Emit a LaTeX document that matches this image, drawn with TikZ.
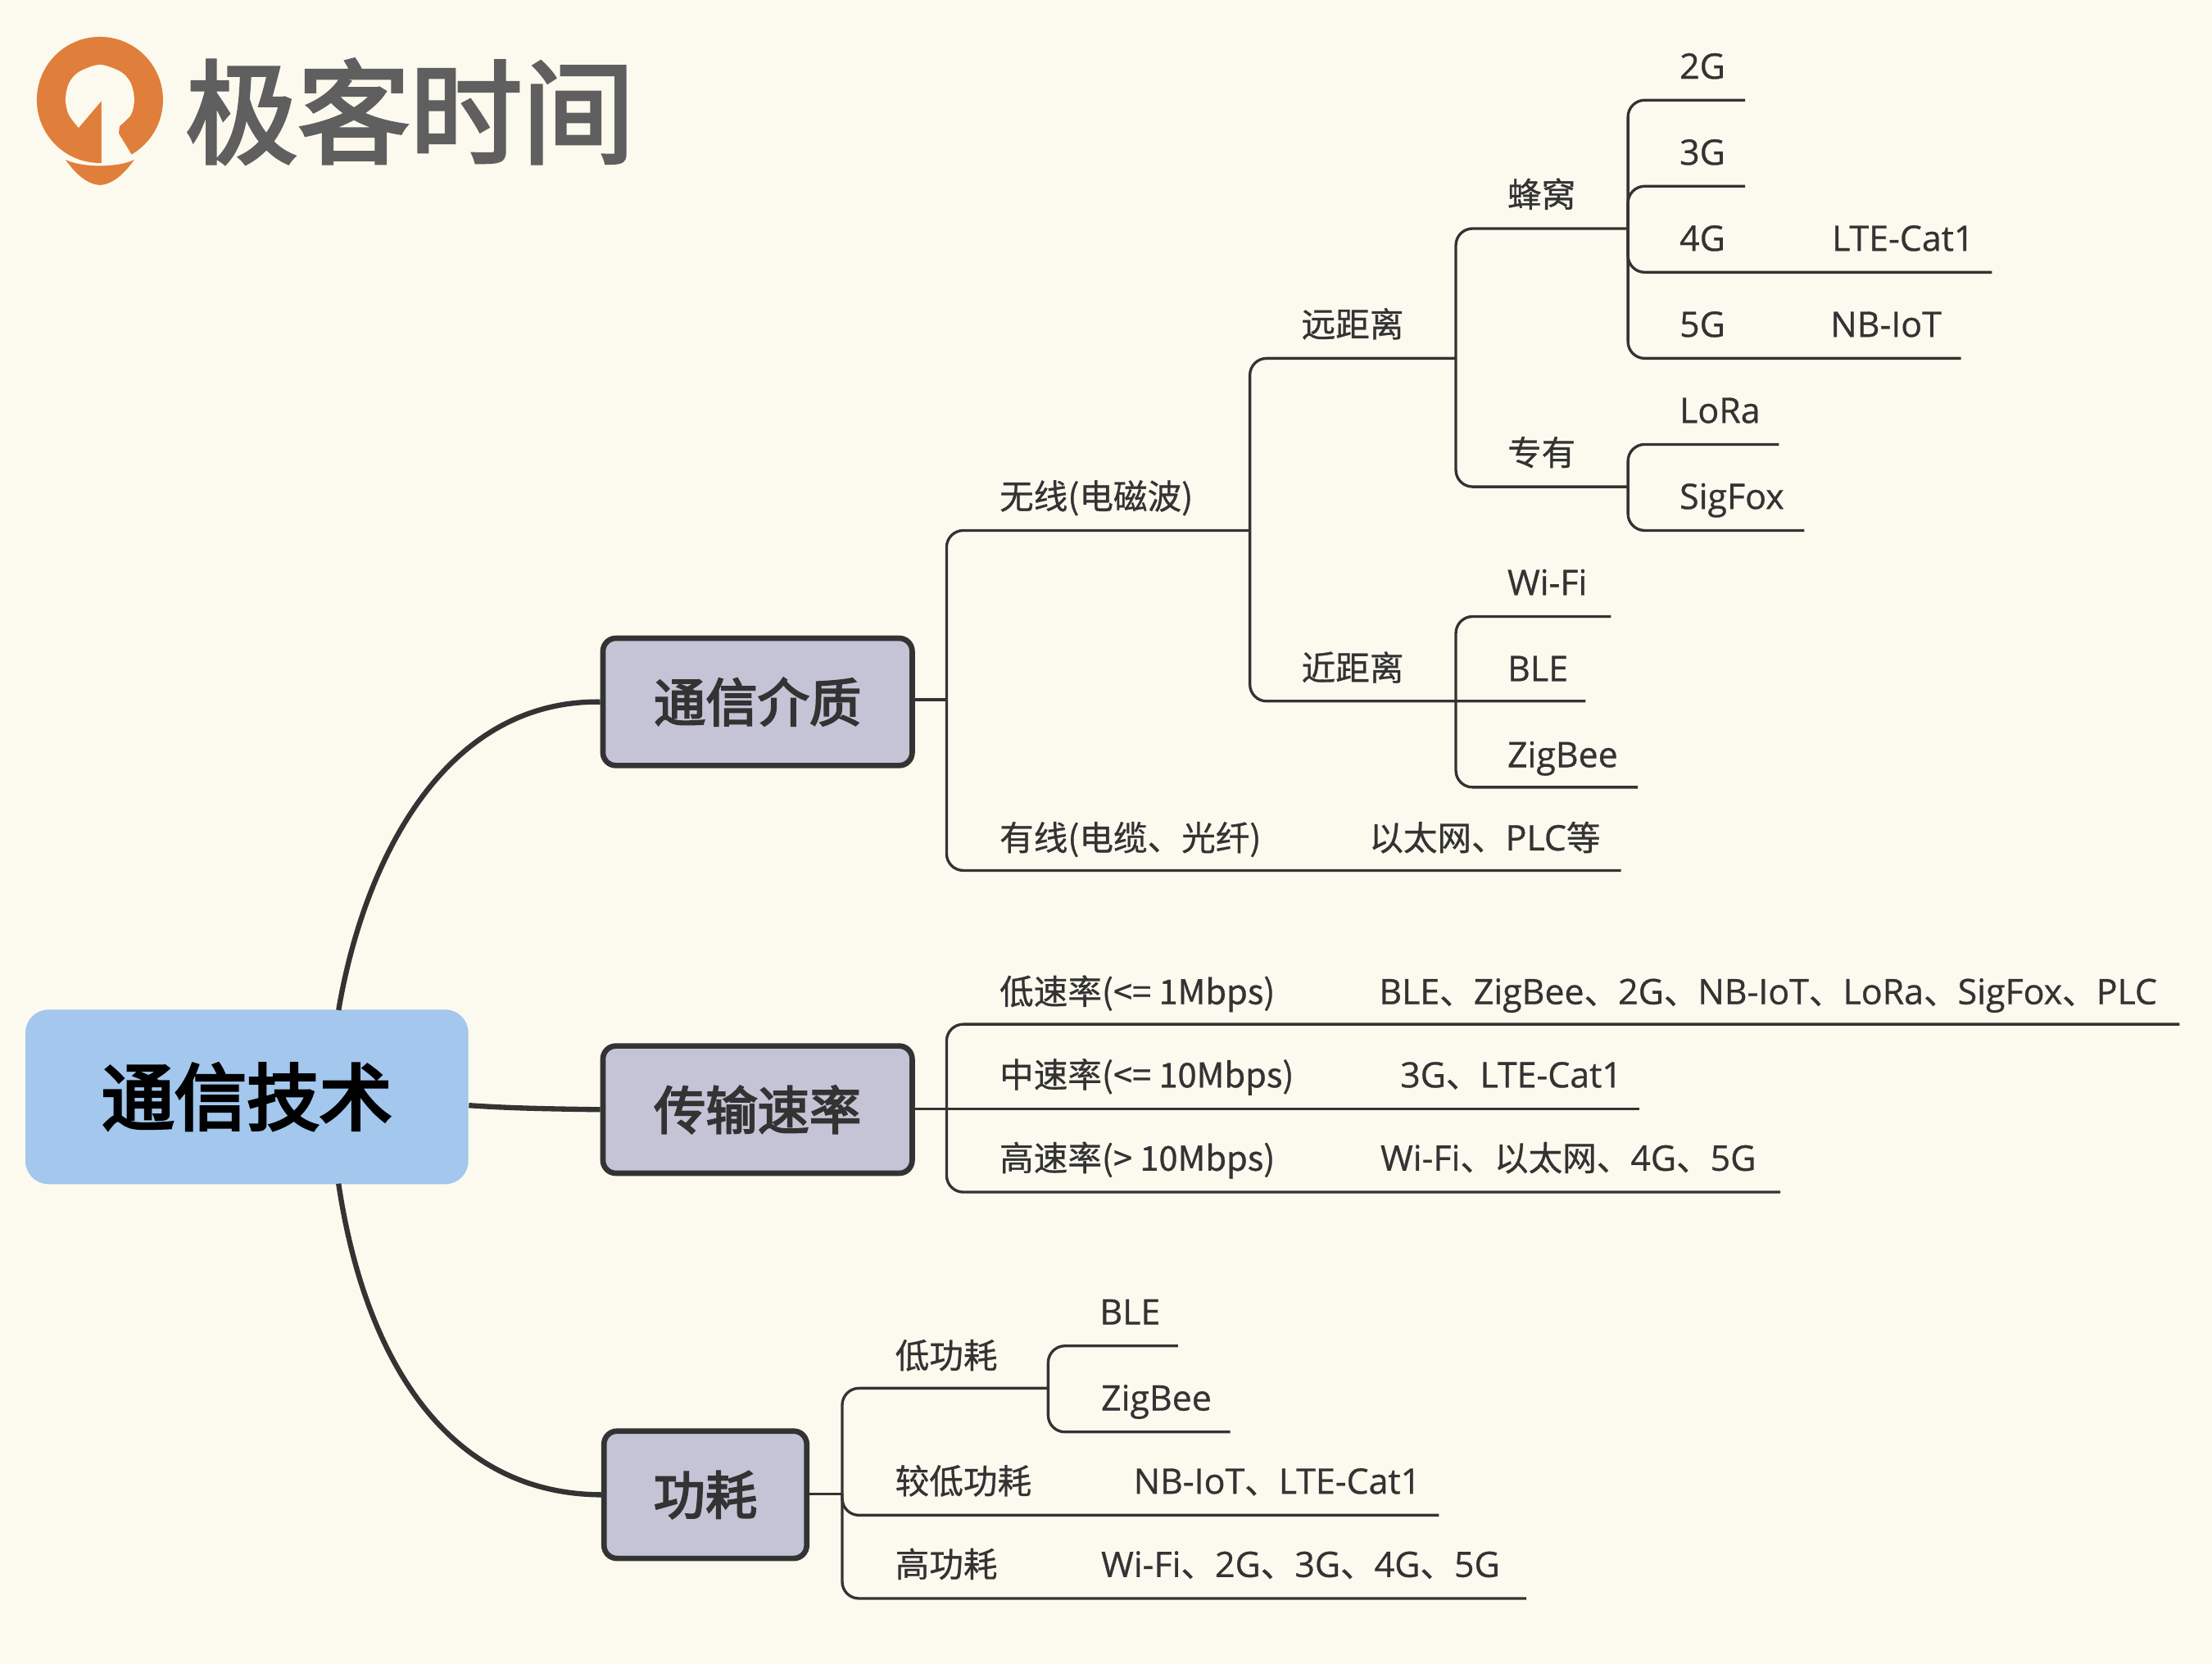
\documentclass[tikz,border=0pt]{standalone}
\usepackage{fontspec}
\setmainfont[FakeBold=0.7]{Open Sans}
\newfontfamily\cjk[FakeBold=0.7,Scale=0.97]{Noto Sans CJK SC}
\newfontfamily\cjkb[FakeBold=3.2]{Noto Sans CJK SC}
\newfontfamily\cjkroot[FakeBold=4]{Noto Sans CJK SC}
\newfontfamily\cjklogo[FakeBold=3]{Noto Sans CJK SC}
\newcommand\cn[1]{{\cjk #1}}
\definecolor{bgc}{HTML}{FCFAEF}
\definecolor{ink}{HTML}{333333}
\definecolor{rootc}{HTML}{A3C7ED}
\definecolor{boxc}{HTML}{C5C4D6}
\definecolor{logoo}{HTML}{E07F3B}
\definecolor{logog}{HTML}{5F5F5F}
\tikzset{
  ln/.style={draw=ink,line width=0.95pt,rounded corners=5.8pt},
  mainln/.style={draw=ink,line width=1.8pt},
  txt/.style={anchor=west,inner sep=0pt,xshift=-0.4pt,text=ink,text height=8.6pt,text depth=0pt,font=\fontsize{12.2}{14}\selectfont},
  topic/.style={draw=ink,line width=1.9pt,fill=boxc,rounded corners=4.5pt,text=ink,
     inner sep=0pt,minimum height=44.2pt,font=\fontsize{18}{20}\selectfont\cjkb},
  rootbox/.style={fill=rootc,rounded corners=8pt,text=black,inner sep=0pt,
     minimum width=153.8pt,minimum height=60.6pt,font=\fontsize{25.2}{28}\selectfont\cjkroot},
  brand/.style={anchor=west,inner sep=0pt,text=logog,font=\fontsize{39}{42}\selectfont\cjklogo}
}
\begin{document}
\begin{tikzpicture}[x=27cm/1568,y=-27cm/1568]
\useasboundingbox (0,0) rectangle (1568,1179.45);
\fill[bgc] (0,0) rectangle (1568,1179.45);
% logo
\begin{scope}[x=0.01cm,y=-0.01cm]
  \fill[logoo] (122,122) circle[radius=0.77cm];
  \fill[bgc] (122,123) -- (96,156)
    plot[smooth] coordinates {(96,156) (84,140) (80,122) (84,102) (96,88) (122,79) (148,88) (160,102) (164,122) (160,140) (146,154)}
    -- (145,163) -- (162,191) -- (175,210) -- (124,210) -- (124,123) -- cycle;
  \fill[logoo] (80,195) .. controls (100,205) and (144,205) .. (164,195)
     .. controls (152,212) and (138,225) .. (122,226)
     .. controls (106,225) and (92,212) .. (80,195) -- cycle;
\end{scope}
\node[brand] (logotext) at (131,79) {极客时间};
% central
\node[rootbox] (root) at (175,777.5) {通信技术};
\node[topic,minimum width=107.4pt] (medium) at (537,497.5) {通信介质};
\node[topic,minimum width=70.4pt] (power) at (500,1059.5) {功耗};
\node[topic,minimum width=107.4pt] (rate) at (537,786.5) {传输速率};
\coordinate (rootT) at (240,716);
\coordinate (rootB) at (240,839);
\draw[mainln] (rootT) .. controls (258,610) and (315,496) .. (medium.west);
\draw[mainln] (rootB) .. controls (258,960) and (315,1059) .. (power.west);
\draw[mainln] (root.east |- 0,783.5) .. controls (360,785.5) and (390,786) .. (rate.west);
% tree 1
\coordinate (b1) at (671,496);
\coordinate (wlE) at (886,376);
\coordinate (wdE) at (1149,617);
\draw[ln] (medium.east |- b1) -- (b1);
\draw[ln] (wlE) -| (b1) |- (wdE);
\node[txt] (wl) at (709,352) {\cn{无线(电磁波)}};
\node[txt] (wd) at (709,594) {\cn{有线(电缆、光纤)}};
\node[txt] (eth) at (971,594) {\cn{以太网、}PLC\cn{等}};
\coordinate (farE) at (1032,254);
\coordinate (nearE) at (1124,497);
\draw[ln] (farE) -| (wlE) |- (nearE);
\node[txt] (far) at (923,230) {\cn{远距离}};
\node[txt] (near) at (923,473.5) {\cn{近距离}};
\coordinate (cellE) at (1154,162);
\coordinate (propE) at (1154,345);
\draw[ln] (cellE) -| (farE) |- (propE);
\node[txt] (cell) at (1069,138) {\cn{蜂窝}};
\node[txt] (prop) at (1069,321) {\cn{专有}};
\coordinate (g2E) at (1237,71);
\coordinate (g3E) at (1237,132);
\coordinate (g4E) at (1412,193);
\coordinate (g5E) at (1390,254);
\draw[ln] (g2E) -| (cellE) |- (g5E);
\draw[ln] (g3E) -| (cellE) |- (g4E);
\node[txt] (g2) at (1191,47) {2G};
\node[txt] (g3) at (1191,108) {3G};
\node[txt] (g4) at (1191,169) {4G};
\node[txt] (g5) at (1191,230) {5G};
\node[txt] (cat1) at (1299,169) {LTE-Cat1};
\node[txt] (nb) at (1298,230) {NB-IoT};
\coordinate (loraE) at (1261,315);
\coordinate (sfE) at (1279,376);
\draw[ln] (loraE) -| (propE) |- (sfE);
\node[txt] (lora) at (1191,291) {LoRa};
\node[txt] (sf) at (1191,352) {SigFox};
\coordinate (wifiE) at (1142,437);
\coordinate (zbE) at (1161,558);
\coordinate (b2) at (1032,497);
\draw[ln] (wifiE) -| (b2) |- (zbE);
\node[txt] (wifi) at (1069,413) {Wi-Fi};
\node[txt] (ble) at (1069,474) {BLE};
\node[txt] (zb) at (1069,535) {ZigBee};
% tree 2
\coordinate (lowE) at (1545,726);
\coordinate (midE) at (1162,786);
\coordinate (hiE) at (1262,845);
\coordinate (b3) at (671,786);
\draw[ln] (lowE) -| (b3) |- (hiE);
\draw[ln] (rate.east |- midE) -- (midE);
\node[txt] (low) at (709,703) {\cn{低速率(<= 1Mbps)}};
\node[txt] (lowv) at (978,703) {BLE\cn{、}ZigBee\cn{、}2G\cn{、}NB-IoT\cn{、}LoRa\cn{、}SigFox\cn{、}PLC};
\node[txt] (mid) at (709,762) {\cn{中速率(<= 10Mbps)}};
\node[txt] (midv) at (993,762) {3G\cn{、}LTE-Cat1};
\node[txt] (hi) at (709,821) {\cn{高速率(> 10Mbps)}};
\node[txt] (hiv) at (979,821) {Wi-Fi\cn{、以太网、}4G\cn{、}5G};
% tree 3
\coordinate (b4) at (597,1059);
\coordinate (lpE) at (743,984);
\coordinate (mpE) at (1020,1074);
\coordinate (hpE) at (1082,1133);
\draw[ln] (power.east |- b4) -- (b4);
\draw[ln] (lpE) -| (b4) |- (hpE);
\draw[ln] (b4) |- (mpE);
\node[txt] (lp) at (635,961) {\cn{低功耗}};
\node[txt] (mp) at (635,1050) {\cn{较低功耗}};
\node[txt] (mpv) at (804,1050) {NB-IoT\cn{、}LTE-Cat1};
\node[txt] (hp) at (635,1109) {\cn{高功耗}};
\node[txt] (hpv) at (781,1109) {Wi-Fi\cn{、}2G\cn{、}3G\cn{、}4G\cn{、}5G};
\coordinate (pbleE) at (835,954);
\coordinate (pzbE) at (872,1015);
\draw[ln] (pbleE) -| (lpE) |- (pzbE);
\node[txt] (pble) at (780,930) {BLE};
\node[txt] (pzb) at (781,991) {ZigBee};
\end{tikzpicture}
\end{document}
